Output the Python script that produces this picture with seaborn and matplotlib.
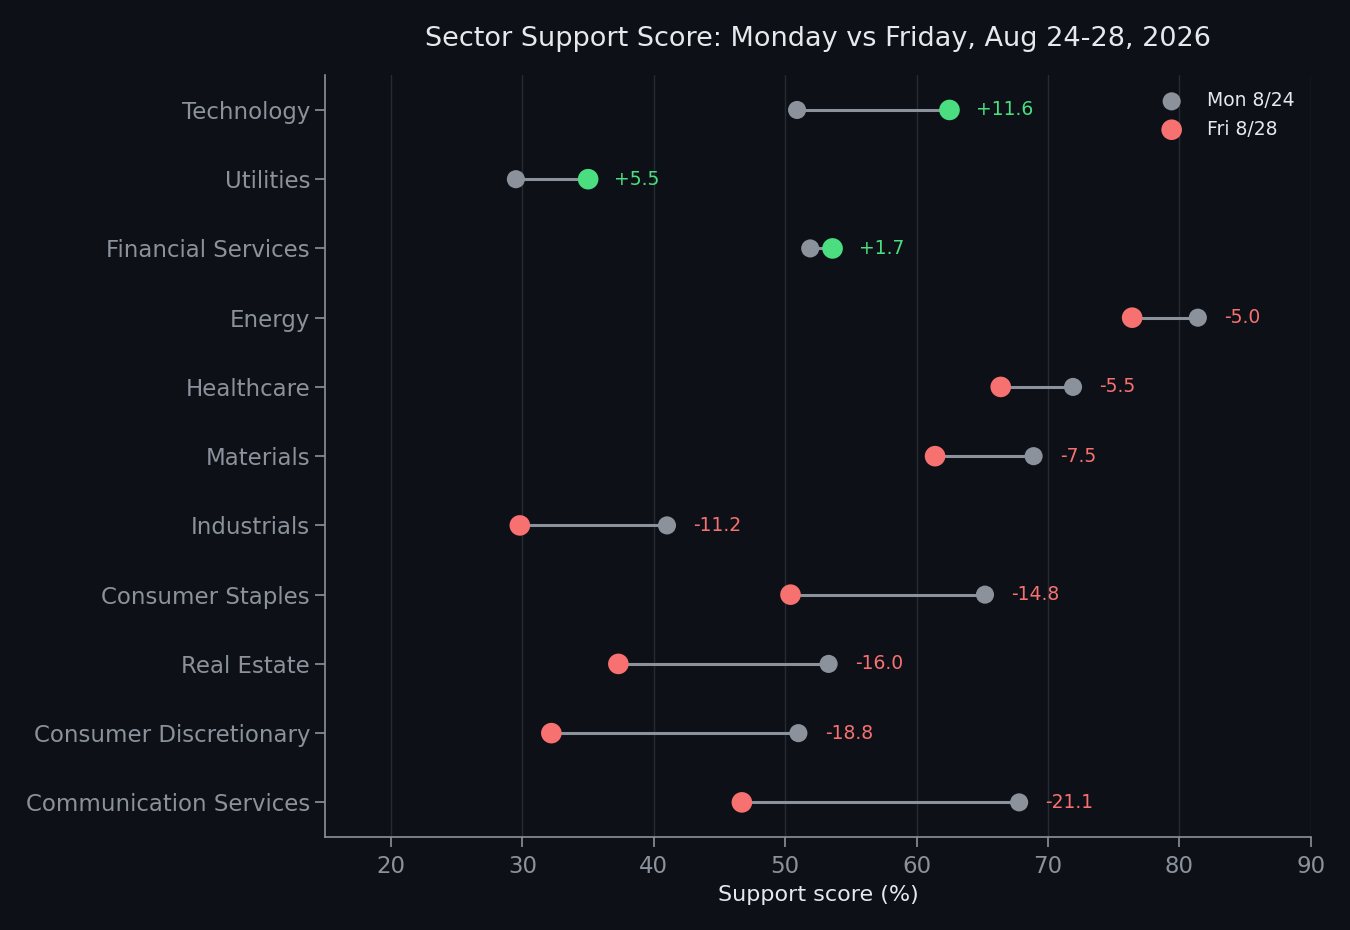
import numpy as np
import pandas as pd
import matplotlib
matplotlib.use('Agg')
import matplotlib.pyplot as plt
import seaborn as sns

# data
sectors = ['Technology', 'Utilities', 'Financial Services', 'Energy', 'Healthcare',
           'Materials', 'Industrials', 'Consumer Staples', 'Real Estate',
           'Consumer Discretionary', 'Communication Services']
mon = [50.9, 29.5, 51.9, 81.4, 71.9, 68.9, 41.0, 65.2, 53.3, 51.0, 67.8]
fri = [62.5, 35.0, 53.6, 76.4, 66.4, 61.4, 29.8, 50.4, 37.3, 32.2, 46.7]

bg = '#0d1017'
gray = '#8b929b'
red = '#f87171'
green = '#4ade80'

sns.set_theme(style='dark')
plt.rcParams['font.family'] = ['DejaVu Sans']

df = pd.DataFrame({'Sector': sectors, 'Mon': mon, 'Fri': fri})
df['diff'] = df['Fri'] - df['Mon']
df['pos'] = np.arange(len(df))

fig, ax = plt.subplots(figsize=(13.5, 9.3), dpi=100)
fig.patch.set_facecolor(bg)
ax.set_facecolor(bg)
fig.subplots_adjust(left=0.241, right=0.971, top=0.919, bottom=0.100)

ax.grid(axis='x', color='#262b33', linewidth=1)
ax.set_axisbelow(True)

ax.hlines(df['pos'], df['Mon'], df['Fri'], color=gray, linewidth=2.2, zorder=2)

sns.scatterplot(x='Mon', y='pos', data=df, color=gray, s=170, edgecolor='none',
                label='Mon 8/24', ax=ax, zorder=3)
fri_colors = [green if d > 0 else red for d in df['diff']]
sns.scatterplot(x='Fri', y='pos', data=df, hue='Sector', palette=fri_colors, s=220,
                edgecolor='none', ax=ax, zorder=4, legend=False)
# legend handle for Friday
ax.scatter([], [], color=red, s=220, edgecolor='none', label='Fri 8/28')

for _, row in df.iterrows():
    x = max(row['Mon'], row['Fri']) + 2
    c = green if row['diff'] > 0 else red
    ax.text(x, row['pos'], f"{row['diff']:+.1f}", color=c, fontsize=13.5, va='center', ha='left')

ax.set_yticks(df['pos'])
ax.set_yticklabels(sectors)
ax.set_ylim(10.5, -0.5)
ax.set_xlim(15, 90)
ax.set_xticks(range(20, 91, 10))
ax.set_ylabel('')
ax.set_xlabel('Support score (%)', color='#e6e8eb', fontsize=16, labelpad=5)
ax.set_title('Sector Support Score: Monday vs Friday, Aug 24-28, 2026', color='#e6e8eb',
             fontsize=19.5, pad=21)

ax.tick_params(axis='both', colors=gray, labelsize=16.5, length=7, width=1.2, direction='out',
               bottom=True, left=True)
ax.tick_params(axis='y', pad=4)
ax.tick_params(axis='x', pad=6)
for s in ['top', 'right']:
    ax.spines[s].set_visible(False)
for s in ['left', 'bottom']:
    ax.spines[s].set_color(gray)
    ax.spines[s].set_linewidth(1.2)

leg = ax.legend(loc='upper right', frameon=False, fontsize=13.5, labelcolor='#e6e8eb',
                handletextpad=0.9, borderaxespad=0.45)

fig.savefig('out.png', facecolor=bg)
